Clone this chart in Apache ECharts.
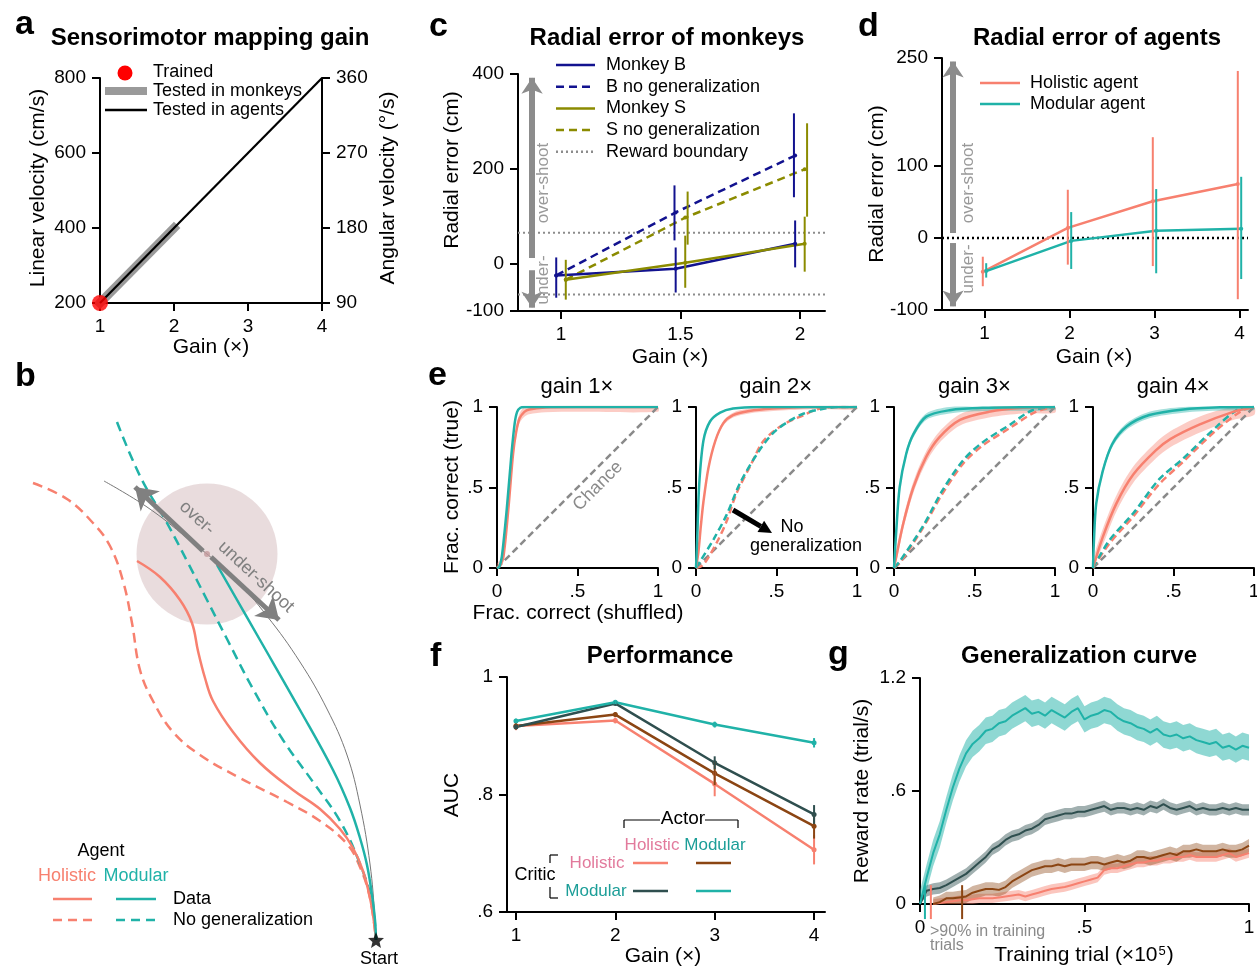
<!DOCTYPE html>
<html>
<head>
<meta charset="UTF-8">
<title>Gain generalization figure</title>
<script src="https://cdn.jsdelivr.net/npm/echarts@6.0.0/dist/echarts.min.js"></script>
<style>html,body{margin:0;padding:0;background:#fff;}</style>
</head>
<body>
<div id="main" style="width:1257px;height:968px;"></div>
<script>
var FONT = '"Liberation Sans", Arial, sans-serif';
var HOL = '#f7806f', MOD = '#20b2a8', DARK = '#2f4f4f', BROWN = '#8b4513';
var NAVY = '#12128f', OLIVE = '#8b8b00';

// a: sensorimotor mapping gain
var gainTrained = [1], velTrained = [200];
var gainMonkeys = [1, 2], velMonkeys = [200, 400];
var gainAgents = [1, 4], velAgents = [200, 800];

// b: example trajectories (start at origin)
var trajHolData = [[-239,379],[-216,363],[-196,340],[-184,317],[-178,289],[-171,262],[-163,239],[-143,208],[-116,177],[-83,150],[-56,131],[-36,111],[-23,92],[-13,69],[-6,42],[-2,18],[0,0]];
var trajHolNoGen = [[-343,457],[-309,441],[-283,417],[-266,394],[-253,359],[-244,317],[-236,270],[-223,239],[-203,208],[-176,185],[-136,162],[-89,138],[-56,119],[-29,96],[-16,73],[-6,42],[0,0]];
var trajModData = [[-159,375],[-116,300],[-76,230],[-43,170],[-26,132],[-16,102],[-9,75],[-4,45],[-1,20],[0,0]];
var trajModNoGen = [[-259,518],[-236,464],[-209,417],[-189,379],[-169,340],[-149,301],[-123,251],[-93,200],[-63,158],[-36,119],[-16,76],[-4,38],[0,0]];
var radialArc = [[-272,459],[-229,433],[-189,402],[-143,363],[-109,324],[-76,278],[-49,231],[-29,185],[-16,135],[-6,76],[-1,22],[0,0]];
var targetPos = [[-169, 386]];
var overArrow = [[-173, 389], [-241, 453]];
var underArrow = [[-165, 383], [-97, 320]];
var startPos = [[0, 0]];

// c: radial error of monkeys
var gainsC = [1, 1.5, 2];
var monkeyB = [-25, -11, 42], monkeyBLo = [-72, -61, -8], monkeyBHi = [13, 34, 91];
var bNoGen = [-25, 108, 228], bNoGenLo = [null, 49, 140], bNoGenHi = [null, 165, 317];
var monkeyS = [-34, 2, 42], monkeySLo = [-76, -51, -17], monkeySHi = [8, 59, 99];
var sNoGen = [-34, 97, 199], sNoGenLo = [null, 40, 99], sNoGenHi = [null, 152, 296];
var rewardBoundary = [65, -65];

// d: radial error of agents
var gainsD = [1, 2, 3, 4];
var holAgent = [-47, 14, 51, 75], holAgentLo = [-67, -37, -39, -85], holAgentHi = [-26, 67, 140, 232];
var modAgent = [-46, -4, 10, 13], modAgentLo = [-55, -43, -49, -57], modAgentHi = [-35, 36, 68, 85];

// e: ROC curves per gain
var chance = [[0, 0], [1, 1]];
var rocHol1 = [[0,0],[0.02,0.02],[0.04,0.07],[0.07,0.36],[0.1,0.71],[0.12,0.85],[0.14,0.93],[0.17,0.97],[0.2,0.985],[0.3,0.997],[0.5,1],[1,1]];
var rocMod1 = [[0,0],[0.015,0.01],[0.03,0.07],[0.06,0.36],[0.09,0.71],[0.11,0.9],[0.125,0.97],[0.145,0.995],[0.17,1],[1,1]];
var rocHol2 = [[0,0],[0.015,0.1],[0.03,0.26],[0.046,0.41],[0.077,0.62],[0.12,0.79],[0.17,0.9],[0.23,0.95],[0.33,0.975],[0.48,0.99],[0.69,1],[1,1]];
var rocMod2 = [[0,0],[0.008,0.2],[0.02,0.52],[0.046,0.79],[0.087,0.91],[0.15,0.965],[0.23,0.99],[0.38,1],[1,1]];
var rocHol2NG = [[0,0],[0.046,0.02],[0.13,0.16],[0.19,0.29],[0.25,0.46],[0.34,0.64],[0.42,0.79],[0.54,0.89],[0.67,0.95],[0.75,0.985],[0.85,1],[1,1]];
var rocMod2NG = [[0,0],[0.025,0.04],[0.11,0.18],[0.19,0.33],[0.27,0.52],[0.38,0.71],[0.48,0.84],[0.59,0.92],[0.67,0.96],[0.8,0.99],[0.9,1],[1,1]];
var rocHol3 = [[0,0],[0.014,0.07],[0.056,0.27],[0.12,0.5],[0.2,0.69],[0.28,0.81],[0.41,0.92],[0.59,0.97],[0.8,0.995],[1,1]];
var rocMod3 = [[0,0],[0.014,0.23],[0.035,0.5],[0.076,0.71],[0.12,0.83],[0.2,0.94],[0.345,0.98],[0.55,0.995],[1,1]];
var rocHol3NG = [[0,0],[0.035,0.03],[0.18,0.25],[0.3,0.46],[0.43,0.65],[0.55,0.76],[0.72,0.87],[0.88,0.97],[1,1]];
var rocMod3NG = [[0,0],[0.035,0.04],[0.18,0.26],[0.3,0.48],[0.43,0.67],[0.55,0.78],[0.72,0.89],[0.86,0.98],[1,1]];
var rocHol4 = [[0,0],[0.06,0.19],[0.145,0.4],[0.25,0.58],[0.39,0.73],[0.48,0.8],[0.66,0.89],[0.87,0.97],[1,1]];
var rocMod4 = [[0,0],[0.005,0.15],[0.02,0.4],[0.06,0.6],[0.12,0.77],[0.21,0.88],[0.35,0.95],[0.56,0.985],[0.8,0.998],[1,1]];
var rocHol4NG = [[0,0],[0.1,0.15],[0.25,0.32],[0.41,0.52],[0.56,0.66],[0.77,0.86],[0.93,0.98],[1,1]];
var rocMod4NG = [[0,0],[0.1,0.17],[0.25,0.34],[0.41,0.55],[0.56,0.68],[0.77,0.88],[0.91,0.99],[1,1]];
var rocHolSpread = [0.03, 0.015, 0.035, 0.05];
var rocModSpread = [0.005, 0.005, 0.02, 0.02];

// f: AUC (actor / critic)
var gainsF = [1, 2, 3, 4];
var aucHH = [0.9165, 0.926, 0.818, 0.706], aucHHErr = [0.007, 0.005, 0.021, 0.025];
var aucMH = [0.9165, 0.936, 0.836, 0.746], aucMHErr = [0.006, 0.004, 0.02, 0.021];
var aucHM = [0.915, 0.955, 0.854, 0.766], aucHMErr = [0.004, 0.003, 0.011, 0.016];
var aucMM = [0.925, 0.957, 0.919, 0.888], aucMMErr = [0.004, 0.003, 0.005, 0.008];

// g: generalization curve (x1e5 trials)
var gTrial = [0,0.02,0.04,0.06,0.08,0.1,0.12,0.14,0.16,0.18,0.2,0.22,0.24,0.26,0.28,0.3,0.32,0.34,0.36,0.38,0.4,0.42,0.44,0.46,0.48,0.5,0.52,0.54,0.56,0.58,0.6,0.62,0.64,0.66,0.68,0.7,0.72,0.74,0.76,0.78,0.8,0.82,0.84,0.86,0.88,0.9,0.92,0.94,0.96,0.98,1];
var rateMM = [0,0.14,0.27,0.37,0.5,0.62,0.72,0.8,0.85,0.88,0.92,0.93,0.96,0.97,1.0,1.02,1.04,1.01,1.02,1.0,1.03,1.01,0.99,1.02,1.04,0.98,1.0,1.01,1.03,1.02,0.99,0.97,0.96,0.94,0.93,0.91,0.93,0.9,0.89,0.9,0.88,0.89,0.87,0.86,0.85,0.86,0.83,0.84,0.82,0.84,0.83];
var rateHM = [0,0.07,0.08,0.085,0.1,0.12,0.14,0.16,0.19,0.22,0.25,0.29,0.31,0.34,0.36,0.37,0.39,0.4,0.42,0.45,0.46,0.47,0.48,0.48,0.49,0.49,0.5,0.51,0.52,0.5,0.51,0.51,0.5,0.51,0.5,0.52,0.51,0.53,0.51,0.5,0.51,0.52,0.5,0.51,0.5,0.5,0.51,0.5,0.51,0.5,0.5];
var rateMH = [null,null,0,0.01,0.03,0.03,0.035,0.04,0.06,0.07,0.08,0.08,0.075,0.09,0.12,0.14,0.16,0.18,0.19,0.2,0.2,0.21,0.2,0.21,0.21,0.21,0.22,0.22,0.21,0.22,0.23,0.22,0.23,0.25,0.25,0.24,0.25,0.26,0.27,0.26,0.28,0.28,0.29,0.28,0.28,0.28,0.29,0.28,0.28,0.29,0.31];
var rateHH = [null,null,0,0.005,0.01,0.015,0.02,0.02,0.025,0.03,0.03,0.03,0.035,0.04,0.045,0.05,0.04,0.05,0.06,0.07,0.08,0.085,0.09,0.1,0.11,0.12,0.13,0.14,0.18,0.19,0.19,0.2,0.21,0.22,0.22,0.23,0.23,0.24,0.24,0.25,0.25,0.26,0.25,0.25,0.25,0.25,0.26,0.27,0.25,0.26,0.27];
var rateSpread = {MM: 0.07, HM: 0.03, MH: 0.035, HH: 0.025};
var trial90 = [0.015, 0.033, 0.128];   // MM, HH, MH reach >90% in training

// ---------- helpers
function dotFmt(v) { return String(+(+v).toFixed(2)).replace(/^0\./, '.'); }

function ax(grid, min, max, o) {
  o = o || {};
  var a = {
    gridIndex: grid, type: 'value', min: min, max: max,
    axisLine: {show: true, onZero: false, lineStyle: {color: '#000', width: 2}},
    axisTick: {show: true, length: 8, lineStyle: {color: '#000', width: 2}},
    axisLabel: {color: '#000', fontSize: 19, fontFamily: FONT, margin: 14, showMinLabel: true, showMaxLabel: true},
    splitLine: {show: false}
  };
  if (o.interval != null) a.interval = o.interval;
  if (o.ticks) { a.axisTick.customValues = o.ticks; a.axisLabel.customValues = o.ticks; }
  if (o.fmt) a.axisLabel.formatter = o.fmt;
  if (o.position) a.position = o.position;
  if (o.hide) a.show = false;
  return a;
}

function zip(xs, ys, dx) {
  return xs.map(function (x, i) { return [x + (dx || 0), ys[i]]; });
}

function line(xi, yi, data, color, w, dash, o) {
  o = o || {};
  return {
    type: 'line', xAxisIndex: xi, yAxisIndex: yi, data: data, silent: true,
    symbol: o.symbol || 'none', showSymbol: !!o.symbol, symbolSize: o.symbolSize || 5,
    smooth: o.smooth || false, clip: o.clip === false ? false : true, z: o.z || 2,
    itemStyle: {color: color},
    lineStyle: {color: color, width: w, type: dash || 'solid', cap: o.cap || 'butt'}
  };
}

function errBars(xi, yi, xs, lo, hi, color, w) {
  var d = [];
  xs.forEach(function (x, i) { if (lo[i] != null) d.push([x, lo[i], hi[i]]); });
  return {
    type: 'custom', xAxisIndex: xi, yAxisIndex: yi, data: d, silent: true, z: 3,
    encode: {x: 0, y: [1, 2]},
    renderItem: function (p, api) {
      var a = api.coord([api.value(0), api.value(1)]);
      var b = api.coord([api.value(0), api.value(2)]);
      return {type: 'line', shape: {x1: a[0], y1: a[1], x2: b[0], y2: b[1]}, style: {stroke: color, lineWidth: w}};
    }
  };
}

function band(xi, yi, pts, spread, color, lo0, hi0, smooth) {
  var p = pts.filter(function (q) { return q[1] != null; });
  return {
    type: 'custom', xAxisIndex: xi, yAxisIndex: yi, silent: true, z: 1,
    data: [[p[0][0], p[0][1]]],
    renderItem: function (params, api) {
      var up = [], dn = [];
      p.forEach(function (q) {
        up.push(api.coord([q[0], Math.min(hi0, q[1] + spread)]));
        dn.unshift(api.coord([q[0], Math.max(lo0, q[1] - spread)]));
      });
      return {type: 'polygon', shape: {points: up.concat(dn), smooth: smooth || 0}, style: {fill: color}};
    }
  };
}

function txt(x, y, s, o) {
  o = o || {};
  var font = (o.bold ? 'bold ' : '') + (o.size || 18) + 'px ' + FONT;
  return {
    type: 'text', x: x, y: y, rotation: o.rot || 0, z: 100, silent: true,
    style: {text: s, fill: o.color || '#000', font: font,
      align: o.align || 'center', verticalAlign: 'middle',
      textAlign: o.align || 'center', textVerticalAlign: 'middle', rich: o.rich}
  };
}
function gline(x1, y1, x2, y2, color, w, dash) {
  return {type: 'line', z: 100, silent: true, shape: {x1: x1, y1: y1, x2: x2, y2: y2},
    style: {stroke: color, lineWidth: w, lineDash: dash || null}};
}
function garrow(x1, y1, x2, y2, color, w, head) {
  var ang = Math.atan2(y2 - y1, x2 - x1);
  var hx = x2 - head * Math.cos(ang), hy = y2 - head * Math.sin(ang);
  var px = -Math.sin(ang) * head * 0.5, py = Math.cos(ang) * head * 0.5;
  return [gline(x1, y1, hx, hy, color, w),
    {type: 'polygon', z: 100, silent: true, shape: {points: [[x2, y2], [hx + px, hy + py], [hx - px, hy - py]]}, style: {fill: color}}];
}

// ---------- series
var series = [];

// a
series.push(line(0, 0, zip(gainMonkeys, velMonkeys), '#9a9a9a', 9, 'solid', {cap: 'square', clip: false}));
series.push(line(0, 0, zip(gainAgents, velAgents), '#000', 2.2));
series.push({type: 'scatter', xAxisIndex: 0, yAxisIndex: 0, data: zip(gainTrained, velTrained), symbolSize: 16,
  itemStyle: {color: '#ff0000'}, clip: false, z: 5, silent: true});

// b
series.push({type: 'scatter', xAxisIndex: 9, yAxisIndex: 10, data: targetPos, symbolSize: 141,
  itemStyle: {color: '#e3d3d4'}, z: 0, silent: true});
series.push(line(9, 10, radialArc, '#777', 1, 'solid', {smooth: 0.4, z: 1}));
series.push(line(9, 10, trajHolNoGen, HOL, 2.5, [10, 6], {smooth: 0.4}));
series.push(line(9, 10, trajModNoGen, MOD, 2.5, [10, 6], {smooth: 0.4}));
series.push(line(9, 10, trajHolData, HOL, 2.5, 'solid', {smooth: 0.4}));
series.push(line(9, 10, trajModData, MOD, 2.5, 'solid', {smooth: 0.4}));
series.push({type: 'lines', coordinateSystem: 'cartesian2d', xAxisIndex: 9, yAxisIndex: 10, silent: true, z: 4,
  symbol: ['none', 'arrow'], symbolSize: 21,
  lineStyle: {color: '#808080', width: 5, opacity: 1, curveness: 0},
  data: [{coords: overArrow}, {coords: underArrow}]});
series.push({type: 'scatter', xAxisIndex: 9, yAxisIndex: 10, data: targetPos, symbolSize: 6,
  itemStyle: {color: '#c39a9c'}, z: 5, silent: true});
series.push({type: 'scatter', xAxisIndex: 9, yAxisIndex: 10, data: startPos, symbolSize: 16, clip: false,
  symbol: 'path://M0,-10 L2.6,-3.6 9.5,-3.1 4.2,1.4 5.9,8.1 0,4.4 -5.9,8.1 -4.2,1.4 -9.5,-3.1 -2.6,-3.6 Z',
  itemStyle: {color: '#000'}, z: 6, silent: true});

// c
rewardBoundary.forEach(function (v) {
  series.push(line(1, 2, [[0.82, v], [2.105, v]], '#8c8c8c', 2, [2, 3], {z: 1}));
});
series.push({type: 'lines', coordinateSystem: 'cartesian2d', xAxisIndex: 1, yAxisIndex: 2, silent: true, z: 1,
  symbol: ['none', 'arrow'], symbolSize: 16, lineStyle: {color: '#8c8c8c', width: 6, opacity: 1},
  data: [{coords: [[0.879, 12], [0.879, 392]]}, {coords: [[0.879, -14], [0.879, -93]]}]});
series.push(line(1, 2, zip(gainsC, bNoGen, -0.02), NAVY, 2.5, [8, 5], {symbol: 'circle', symbolSize: 4}));
series.push(line(1, 2, zip(gainsC, sNoGen, 0.02), OLIVE, 2.5, [8, 5], {symbol: 'circle', symbolSize: 4}));
series.push(line(1, 2, zip(gainsC, monkeyB, -0.02), NAVY, 2.5, 'solid', {symbol: 'circle', symbolSize: 4}));
series.push(line(1, 2, zip(gainsC, monkeyS, 0.02), OLIVE, 2.5, 'solid', {symbol: 'circle', symbolSize: 4}));
series.push(errBars(1, 2, gainsC.map(function (g) { return g - 0.02; }), monkeyBLo, monkeyBHi, NAVY, 2));
series.push(errBars(1, 2, gainsC.map(function (g) { return g - 0.025; }), bNoGenLo, bNoGenHi, NAVY, 2));
series.push(errBars(1, 2, gainsC.map(function (g) { return g + 0.02; }), monkeySLo, monkeySHi, OLIVE, 2));
series.push(errBars(1, 2, gainsC.map(function (g) { return g + 0.03; }), sNoGenLo, sNoGenHi, OLIVE, 2));

// d
series.push(line(2, 3, [[0.5, 0], [4.1, 0]], '#000', 2.5, [2, 3], {z: 1}));
series.push({type: 'lines', coordinateSystem: 'cartesian2d', xAxisIndex: 2, yAxisIndex: 3, silent: true, z: 1,
  symbol: ['none', 'arrow'], symbolSize: 16, lineStyle: {color: '#8c8c8c', width: 6, opacity: 1},
  data: [{coords: [[0.63, 7], [0.63, 245]]}, {coords: [[0.63, -7], [0.63, -95]]}]});
series.push(line(2, 3, zip(gainsD, holAgent, -0.02), HOL, 2.5, 'solid', {symbol: 'circle', symbolSize: 4}));
series.push(line(2, 3, zip(gainsD, modAgent, 0.02), MOD, 2.5, 'solid', {symbol: 'circle', symbolSize: 4}));
series.push(errBars(2, 3, gainsD.map(function (g) { return g - 0.02; }), holAgentLo, holAgentHi, HOL, 2));
series.push(errBars(2, 3, gainsD.map(function (g) { return g + 0.02; }), modAgentLo, modAgentHi, MOD, 2));

// e
var rocSets = [
  {hol: rocHol1, mod: rocMod1, holNG: null, modNG: null},
  {hol: rocHol2, mod: rocMod2, holNG: rocHol2NG, modNG: rocMod2NG},
  {hol: rocHol3, mod: rocMod3, holNG: rocHol3NG, modNG: rocMod3NG},
  {hol: rocHol4, mod: rocMod4, holNG: rocHol4NG, modNG: rocMod4NG}
];
rocSets.forEach(function (s, k) {
  var xi = 3 + k, yi = 4 + k;
  series.push(line(xi, yi, chance, '#8a8a8a', 2.5, [7, 4], {z: 1}));
  if (s.holNG) series.push(line(xi, yi, s.holNG, HOL, 2.5, [7, 4], {smooth: 0.3}));
  if (s.modNG) series.push(line(xi, yi, s.modNG, MOD, 2.5, [7, 4], {smooth: 0.3}));
  series.push(band(xi, yi, s.hol, rocHolSpread[k], 'rgba(247,128,111,0.4)', 0, 1, 0.3));
  if (rocModSpread[k] > 0.01) series.push(band(xi, yi, s.mod, rocModSpread[k], 'rgba(32,178,168,0.4)', 0, 1, 0.3));
  series.push(line(xi, yi, s.hol, HOL, 2.5, 'solid', {smooth: 0.3}));
  series.push(line(xi, yi, s.mod, MOD, 2.5, 'solid', {smooth: 0.3}));
});

// f
[[aucHH, aucHHErr, HOL], [aucMH, aucMHErr, BROWN], [aucHM, aucHMErr, DARK], [aucMM, aucMMErr, MOD]].forEach(function (r) {
  series.push(line(7, 8, zip(gainsF, r[0]), r[2], 2.5, 'solid', {symbol: 'circle', symbolSize: 5}));
  series.push(errBars(7, 8, gainsF, r[0].map(function (v, i) { return v - r[1][i]; }),
    r[0].map(function (v, i) { return v + r[1][i]; }), r[2], 2));
});

// g
[[rateHH, rateSpread.HH, HOL, 'rgba(247,128,111,0.45)'],
 [rateMH, rateSpread.MH, BROWN, 'rgba(139,69,19,0.4)'],
 [rateHM, rateSpread.HM, DARK, 'rgba(47,79,79,0.45)'],
 [rateMM, rateSpread.MM, MOD, 'rgba(32,178,168,0.5)']].forEach(function (r) {
  var p = zip(gTrial, r[0]);
  series.push(band(8, 9, p, r[1], r[3], 0, 2, 0));
  series.push(line(8, 9, p, r[2], 2, 'solid', {z: 2}));
});
series.push({type: 'custom', xAxisIndex: 8, yAxisIndex: 9, silent: true, z: 4, clip: false,
  data: trial90.map(function (t, i) { return [t, i]; }),
  renderItem: function (p, api) {
    var cols = [MOD, HOL, BROWN];
    var a = api.coord([api.value(0), 0.1]);
    var b = api.coord([api.value(0), -0.08]);
    return {type: 'line', shape: {x1: a[0], y1: a[1], x2: b[0], y2: b[1]}, style: {stroke: cols[p.dataIndex], lineWidth: 2}};
  }});

// ---------- annotations
var G = [];
var LET = {bold: true, size: 34, align: 'left'};
var TIT = {bold: true, size: 24};
var AXN = {size: 21};
var AXNR = {size: 21, rot: Math.PI / 2};
var LEG = {size: 18, align: 'left'};

// a
G.push(txt(15, 25, 'a', LET), txt(210, 38, 'Sensorimotor mapping gain', TIT));
G.push(txt(38, 188, 'Linear velocity (cm/s)', AXNR), txt(388, 188, 'Angular velocity (°/s)', AXNR));
G.push(txt(211, 347, 'Gain (×)', AXN));
G.push({type: 'circle', z: 100, silent: true, shape: {cx: 125, cy: 73, r: 7.5}, style: {fill: '#ff0000'}});
G.push(gline(105, 91, 147, 91, '#9a9a9a', 8), gline(105, 110, 147, 110, '#000', 2.5));
G.push(txt(153, 72, 'Trained', LEG), txt(153, 91, 'Tested in monkeys', LEG), txt(153, 110, 'Tested in agents', LEG));

// b
G.push(txt(15, 377, 'b', LET));
G.push(txt(197, 518, 'over-', {size: 18, color: '#808080', rot: -0.745}));
G.push(txt(256, 577, 'under-shoot', {size: 18, color: '#808080', rot: -0.745}));
G.push(txt(379, 959, 'Start', {size: 18}));
G.push(txt(101, 851, 'Agent', {size: 18}));
G.push(txt(67, 876, 'Holistic', {size: 18, color: HOL}), txt(136, 876, 'Modular', {size: 18, color: MOD}));
G.push(gline(53, 899, 92, 899, HOL, 2.5), gline(116, 899, 156, 899, MOD, 2.5));
G.push(gline(53, 920, 92, 920, HOL, 2.5, [9, 6]), gline(116, 920, 156, 920, MOD, 2.5, [9, 6]));
G.push(txt(173, 899, 'Data', LEG), txt(173, 920, 'No generalization', LEG));

// c
G.push(txt(429, 27, 'c', LET), txt(667, 38, 'Radial error of monkeys', TIT));
G.push(txt(452, 170, 'Radial error (cm)', AXNR), txt(670, 357, 'Gain (×)', AXN));
G.push(txt(543, 183, 'over-shoot', {size: 17, color: '#999', rot: Math.PI / 2}));
G.push(txt(543, 280, 'under-', {size: 17, color: '#999', rot: Math.PI / 2}));
[['Monkey B', NAVY, null], ['B no generalization', NAVY, [8, 5]], ['Monkey S', OLIVE, null],
 ['S no generalization', OLIVE, [8, 5]], ['Reward boundary', '#8c8c8c', [2, 3]]].forEach(function (r, i) {
  var y = 65 + i * 21.7;
  G.push(gline(556, y, 595, y, r[1], 2.5, r[2]), txt(606, y, r[0], LEG));
});

// d
G.push(txt(858, 27, 'd', LET), txt(1097, 38, 'Radial error of agents', TIT));
G.push(txt(877, 184, 'Radial error (cm)', AXNR), txt(1094, 357, 'Gain (×)', AXN));
G.push(txt(968, 183, 'over-shoot', {size: 17, color: '#999', rot: Math.PI / 2}));
G.push(txt(968, 269, 'under-', {size: 17, color: '#999', rot: Math.PI / 2}));
G.push(gline(980, 83, 1020, 83, HOL, 2.5), txt(1030, 83, 'Holistic agent', LEG));
G.push(gline(980, 104, 1020, 104, MOD, 2.5), txt(1030, 104, 'Modular agent', LEG));

// e
G.push(txt(428, 376, 'e', LET));
['gain 1×', 'gain 2×', 'gain 3×', 'gain 4×'].forEach(function (s, k) {
  G.push(txt(577 + k * 198.7, 387, s, {size: 22}));
});
G.push(txt(452, 487, 'Frac. correct (true)', AXNR), txt(578, 613, 'Frac. correct (shuffled)', AXN));
G.push(txt(598, 486, 'Chance', {size: 18, color: '#8a8a8a', rot: Math.PI / 4}));
G = G.concat(garrow(733, 510, 772, 533, '#000', 5, 13));
G.push(txt(792, 527, 'No', {size: 18}), txt(806, 546, 'generalization', {size: 18}));

// f
G.push(txt(430, 657, 'f', LET), txt(660, 656, 'Performance', TIT));
G.push(txt(452, 795, 'AUC', AXNR), txt(663, 956, 'Gain (×)', AXN));
var PINK = '#e27a9c', TEALT = '#1c9e98';
G.push(gline(624, 828, 624, 820, '#000', 1.2), gline(624, 820, 660, 820, '#000', 1.2));
G.push(gline(705, 820, 738, 820, '#000', 1.2), gline(738, 820, 738, 828, '#000', 1.2));
G.push(txt(683, 819, 'Actor', {size: 19}));
G.push(txt(652, 845, 'Holistic', {size: 17, color: PINK}), txt(715, 845, 'Modular', {size: 17, color: TEALT}));
G.push(txt(535, 875, 'Critic', {size: 18}));
G.push(gline(550, 863, 550, 855, '#000', 1.2), gline(550, 855, 558, 855, '#000', 1.2));
G.push(gline(550, 887, 550, 898, '#000', 1.2), gline(550, 898, 558, 898, '#000', 1.2));
G.push(txt(597, 863, 'Holistic', {size: 17, color: PINK}), txt(596, 891, 'Modular', {size: 17, color: TEALT}));
G.push(gline(633, 863, 668, 863, HOL, 2.5), gline(696, 863, 731, 863, BROWN, 2.5));
G.push(gline(633, 891, 668, 891, DARK, 2.5), gline(696, 891, 731, 891, MOD, 2.5));

// g
G.push(txt(828, 655, 'g', LET), txt(1079, 656, 'Generalization curve', TIT));
G.push(txt(862, 791, 'Reward rate (trial/s)', AXNR));
G.push(txt(1084, 955, 'Training trial (×10{s|5})', {size: 21,
  rich: {s: {font: '13px ' + FONT, fill: '#000', verticalAlign: 'top', padding: [0, 1, 0, 1]}}}));
G.push(txt(930, 932, '>90% in training', {size: 16, color: '#8a8a8a', align: 'left'}));
G.push(txt(930, 946, 'trials', {size: 16, color: '#8a8a8a', align: 'left'}));

// ---------- chart
var eGrids = [497, 696, 894, 1093].map(function (l) {
  return {left: l, top: 407, width: 161, height: 161};
});
var grids = [
  {left: 100, top: 78, width: 222, height: 225},
  {left: 518, top: 74, width: 307, height: 237},
  {left: 942, top: 58, width: 306, height: 252}
].concat(eGrids).concat([
  {left: 507, top: 677, width: 318, height: 235},
  {left: 920, top: 678, width: 329, height: 226},
  {left: 0, top: 360, width: 420, height: 608}
]);
grids.forEach(function (g) { g.containLabel = false; g.outerBoundsMode = 'none'; });

var xAxes = [
  ax(0, 1, 4, {interval: 1}),
  ax(1, 0.82, 2.105, {ticks: [1, 1.5, 2]}),
  ax(2, 0.5, 4.1, {ticks: [1, 2, 3, 4]}),
  ax(3, 0, 1, {interval: 0.5, fmt: dotFmt}),
  ax(4, 0, 1, {interval: 0.5, fmt: dotFmt}),
  ax(5, 0, 1, {interval: 0.5, fmt: dotFmt}),
  ax(6, 0, 1, {interval: 0.5, fmt: dotFmt}),
  ax(7, 0.91, 4.11, {ticks: [1, 2, 3, 4]}),
  ax(8, 0, 1, {interval: 0.5, fmt: dotFmt}),
  ax(9, -376, 44, {hide: true})
];
var yAxes = [
  ax(0, 200, 800, {interval: 200}),
  ax(0, 90, 360, {interval: 90, position: 'right'}),
  ax(1, -100, 400, {ticks: [-100, 0, 200, 400]}),
  ax(2, -100, 250, {ticks: [-100, 0, 100, 250]}),
  ax(3, 0, 1, {interval: 0.5, fmt: dotFmt}),
  ax(4, 0, 1, {interval: 0.5, fmt: dotFmt}),
  ax(5, 0, 1, {interval: 0.5, fmt: dotFmt}),
  ax(6, 0, 1, {interval: 0.5, fmt: dotFmt}),
  ax(7, 0.6, 1, {interval: 0.2, fmt: dotFmt}),
  ax(8, 0, 1.2, {interval: 0.6, fmt: dotFmt}),
  ax(9, -28, 580, {hide: true})
];

var myChart = echarts.init(document.getElementById('main'));
myChart.setOption({
  animation: false,
  backgroundColor: '#fff',
  textStyle: {fontFamily: FONT},
  grid: grids,
  xAxis: xAxes,
  yAxis: yAxes,
  series: series,
  graphic: {elements: G}
});
</script>
</body>
</html>
